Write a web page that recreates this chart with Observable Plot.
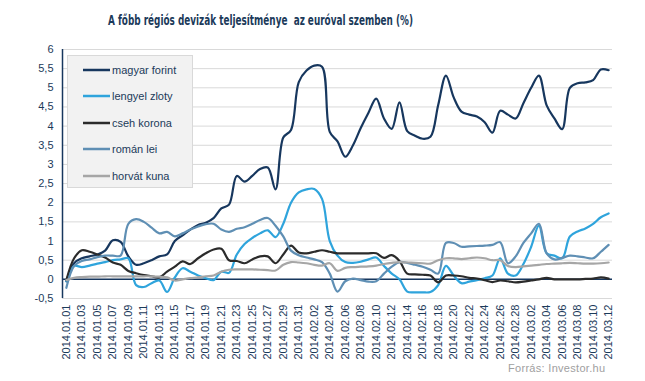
<!DOCTYPE html>
<html>
<head>
<meta charset="utf-8">
<script src="https://cdn.jsdelivr.net/npm/d3@7"></script>
<script src="https://cdn.jsdelivr.net/npm/@observablehq/plot@0.6"></script>
<style>
  html, body { margin: 0; padding: 0; background: #fff; }
  #wrap { position: relative; width: 645px; height: 381px; overflow: hidden; font-family: "Liberation Sans", Arial, sans-serif; }
  #title { position: absolute; left: 0; top: 0; }
  #legend { position: absolute; left: 67px; top: 55px; width: 124px; height: 131px; background: #f2f2f2; border: 1px solid #d9d9d9; }
  .item { position: absolute; left: 0; height: 14px; font-size: 11px; color: #1b3a5a; line-height: 14px; white-space: nowrap; }
  .item svg { position: absolute; left: 15px; top: 0; }
  .item span { position: absolute; left: 44px; top: 0; }
  #source { position: absolute; left: 508px; top: 362px; font-size: 11px; color: #a0a0a0; letter-spacing: 0.3px; white-space: nowrap; }
</style>
</head>
<body>
<div id="wrap">
  <div id="chart"></div>
  <svg id="title" width="645" height="34"><text x="108" y="25" textLength="305" lengthAdjust="spacingAndGlyphs" font-family="'DejaVu Sans Condensed', 'Liberation Sans', sans-serif" font-weight="bold" font-size="14.5" fill="#1b3a5a" xml:space="preserve">A főbb régiós devizák teljesítménye  az euróval szemben (%)</text></svg>
  <div id="legend"></div>
  <div id="source">Forrás: Investor.hu</div>
</div>
<script>
// Series names (legend order)
const seriesNames = ["magyar forint", "lengyel zloty", "cseh korona", "román lei", "horvát kuna"];
const seriesColors = ["#17375e", "#2fa4dc", "#2b2b2b", "#5f8fb4", "#a6a6a6"];

// Daily values from 2014.01.01 to 2014.03.12 (71 days)
const huf = [-0.05, 0.42, 0.55, 0.6, 0.65, 0.75, 1.02, 0.98, 0.6, 0.38,
  0.42, 0.5, 0.6, 0.65, 1.0, 1.15, 1.3, 1.42, 1.48, 1.6,
  1.85, 1.95, 2.7, 2.55, 2.7, 2.88, 2.92, 2.35, 3.7, 3.9,
  5.15, 5.45, 5.58, 5.55, 3.85, 3.6, 3.2, 3.5, 3.95, 4.35,
  4.72, 4.2, 3.93, 4.62, 3.87, 3.75, 3.67, 3.72, 4.55, 5.32,
  4.75, 4.38, 4.3, 4.25, 4.1, 3.83, 4.4, 4.3, 4.2, 4.6,
  5.0, 5.32, 4.54, 4.2, 3.92, 5.0, 5.12, 5.14, 5.2, 5.48, 5.46];
const pln = [-0.05, 0.35, 0.32, 0.36, 0.41, 0.45, 0.5, 0.52, 0.55, -0.15,
  -0.2, -0.1, -0.03, -0.33, 0.05, 0.29, 0.2, 0.1, 0.03, -0.02,
  0.2, 0.17, 0.65, 0.92, 1.08, 1.2, 1.28, 1.1, 1.45, 2.0,
  2.27, 2.35, 2.36, 2.1, 1.0, 0.62, 0.45, 0.43, 0.46, 0.52,
  0.57, 0.35, 0.15, 0.0, -0.32, -0.34, -0.34, -0.33, -0.15, 0.35,
  0.1, -0.1, -0.06, -0.02, 0.03, 0.1, 0.55, 0.15, 0.1, 0.4,
  0.85, 1.4, 0.68, 0.62, 0.55, 1.12, 1.25, 1.33, 1.45, 1.62, 1.72];
const czk = [-0.02, 0.55, 0.76, 0.72, 0.65, 0.57, 0.44, 0.38, 0.22, 0.16,
  0.11, 0.08, 0.05, 0.2, 0.33, 0.47, 0.4, 0.55, 0.68, 0.78,
  0.8, 0.5, 0.48, 0.42, 0.52, 0.6, 0.6, 0.42, 0.65, 0.88,
  0.7, 0.68, 0.72, 0.76, 0.72, 0.68, 0.68, 0.68, 0.68, 0.68,
  0.68, 0.56, 0.63, 0.48, 0.15, 0.13, 0.12, 0.1, -0.08, 0.1,
  0.1, 0.08, 0.04, 0.02, -0.02, -0.07, -0.03, -0.05, -0.08, -0.06,
  -0.03, 0.0, 0.04, 0.0, 0.0, 0.0, 0.0, 0.01, 0.02, 0.05, 0.02];
const ron = [-0.22, 0.35, 0.48, 0.52, 0.58, 0.62, 0.62, 0.62, 1.45, 1.57,
  1.5, 1.35, 1.2, 1.24, 1.12, 1.2, 1.3, 1.38, 1.44, 1.45,
  1.3, 1.24, 1.32, 1.36, 1.45, 1.55, 1.6, 1.4, 1.12, 0.75,
  0.63, 0.57, 0.52, 0.45, 0.15, -0.32, -0.05, 0.02, -0.02, -0.06,
  -0.05, 0.15, 0.33, 0.45, 0.43, 0.38, 0.33, 0.25, 0.15, 0.95,
  0.95, 0.85, 0.86, 0.87, 0.88, 0.9, 0.97, 0.42, 0.6, 0.95,
  1.2, 1.45, 0.68, 0.52, 0.56, 0.62, 0.6, 0.57, 0.55, 0.72, 0.9];
const hrk = [-0.02, 0.04, 0.06, 0.07, 0.07, 0.08, 0.08, 0.08, 0.08, 0.08,
  0.08, 0.08, 0.07, 0.05, -0.03, 0.0, 0.03, 0.05, 0.08, 0.1,
  0.2, 0.25, 0.26, 0.26, 0.26, 0.25, 0.24, 0.23, 0.38, 0.45,
  0.44, 0.42, 0.38, 0.36, 0.42, 0.22, 0.3, 0.32, 0.33, 0.34,
  0.36, 0.4, 0.43, 0.45, 0.44, 0.43, 0.42, 0.41, 0.5, 0.55,
  0.55, 0.53, 0.55, 0.57, 0.55, 0.5, 0.5, 0.35, 0.32, 0.34,
  0.36, 0.38, 0.4, 0.41, 0.42, 0.43, 0.42, 0.41, 0.41, 0.42, 0.44];

const yTicks = [-0.5, 0, 0.5, 1, 1.5, 2, 2.5, 3, 3.5, 4, 4.5, 5, 5.5, 6];

const startDate = new Date(Date.UTC(2014, 0, 1));
const endDate = new Date(Date.UTC(2014, 2, 13));
const dates = d3.utcDay.range(startDate, endDate);
const xTicks = dates.filter((d, i) => i % 2 === 0);

const allSeries = [huf, pln, czk, ron, hrk];
const data = [];
allSeries.forEach((vals, s) => {
  vals.forEach((v, i) => data.push({date: dates[i], value: v, series: seriesNames[s]}));
});

const fmtDate = d3.utcFormat("%Y.%m.%d");
const fmtY = v => String(v).replace(".", ",");
const x0 = new Date(Date.UTC(2013, 11, 31, 12));
const x1 = new Date(Date.UTC(2014, 2, 12, 12));

const chart = Plot.plot({
  width: 645,
  height: 381,
  marginLeft: 62,
  marginRight: 33,
  marginTop: 49,
  marginBottom: 83,
  style: {fontFamily: "'Liberation Sans', Arial, sans-serif", fontSize: "11px", color: "#1b3a5a", background: "#fff", overflow: "visible"},
  x: {type: "utc", domain: [x0, x1], label: null},
  y: {domain: [-0.5, 6], label: null},
  color: {domain: seriesNames, range: seriesColors},
  marks: [
    Plot.ruleY(yTicks, {stroke: "#d9d9d9", strokeWidth: 1}),
    Plot.ruleY([0], {stroke: "#17375e", strokeWidth: 1.5}),
    Plot.line(data, {x: "date", y: "value", z: "series", stroke: "series", curve: "catmull-rom", strokeWidth: 2.2}),
    Plot.ruleX([x0], {y1: -0.5, y2: 6, stroke: "#17375e", strokeWidth: 1.5}),
    Plot.axisY({ticks: yTicks, tickSize: 0, tickPadding: 9, tickFormat: fmtY, fill: "#1b3a5a", fontSize: 11, label: null}),
    Plot.axisX({ticks: xTicks, tickSize: 0, tickPadding: 6, tickRotate: -90, tickFormat: fmtDate, fill: "#1b3a5a", fontSize: 11, label: null})
  ]
});
document.getElementById("chart").appendChild(chart);

// Legend
const legend = document.getElementById("legend");
const itemTops = [7, 33, 60, 86, 113];
seriesNames.forEach((name, i) => {
  const div = document.createElement("div");
  div.className = "item";
  div.style.top = itemTops[i] + "px";
  div.innerHTML = `<svg width="28" height="14"><line x1="0" x2="27" y1="7" y2="7" stroke="${seriesColors[i]}" stroke-width="2.5"/></svg><span>${name}</span>`;
  legend.appendChild(div);
});
</script>
</body>
</html>
